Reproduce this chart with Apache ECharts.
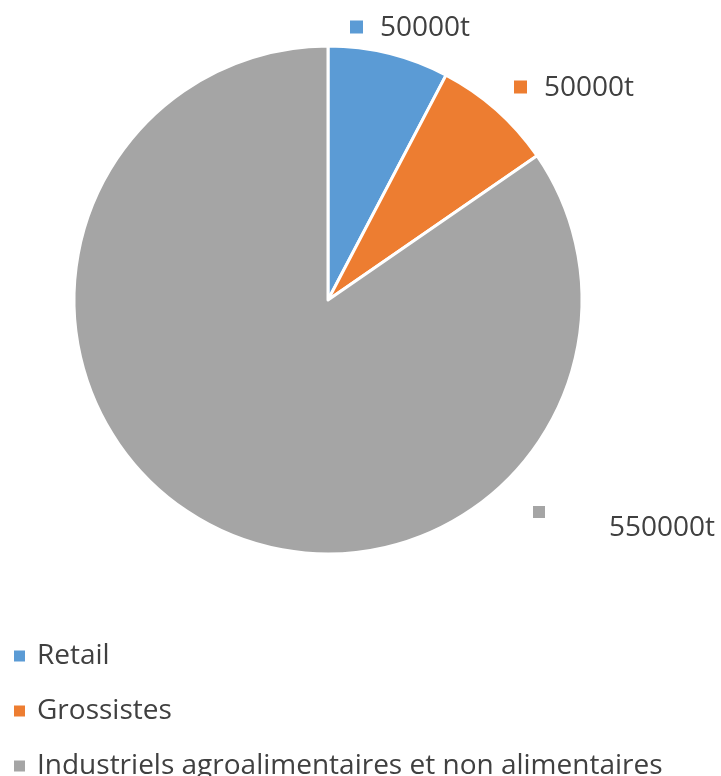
<!DOCTYPE html>
<html><head><meta charset="utf-8">
<script src="https://cdn.jsdelivr.net/npm/echarts@6/dist/echarts.min.js"></script>
<style>html,body{margin:0;padding:0;background:#fff}#c{width:721px;height:776px}</style>
</head><body><div id="c"></div>
<script>
const categories = ['Retail', 'Grossistes', 'Industriels agroalimentaires et non alimentaires'];
const values = [50000, 50000, 550000];
const labelTexts = ['50000t', '50000t', '550000t'];
const colors = ['#5B9BD5', '#ED7D31', '#A5A5A5'];
const FONT = '"Open Sans", "Noto Sans", sans-serif';

const chart = echarts.init(document.getElementById('c'));
const labelPos = [
  {x: 350, y: 27},
  {x: 514, y: 87},
  {x: 533, y: 524}
];
chart.setOption({
  animation: false,
  color: colors,
  legend: {
    orient: 'vertical', left: 12, top: 641, height: 140, padding: 0,
    icon: 'rect', itemWidth: 13, itemHeight: 13, itemGap: 25,
    textStyle: {fontFamily: FONT, fontSize: 28, color: '#404040', lineHeight: 30, padding: [0,0,0,6]},
    data: categories
  },
  series: [{
    type: 'pie',
    center: [328, 300], radius: 254,
    startAngle: 90, clockwise: true,
    itemStyle: {borderColor: '#fff', borderWidth: 3},
    labelLine: {show: false},
    label: {
      show: true, position: 'outside', overflow: 'none', alignTo: 'none',
      formatter: p => p.dataIndex === 2 ? '{m' + p.dataIndex + '|}{sp|}{t|' + labelTexts[p.dataIndex] + '}' : '{m' + p.dataIndex + '|}{g|}{t|' + labelTexts[p.dataIndex] + '}',
      rich: {
        m0: {width: 13, height: 13, backgroundColor: colors[0]},
        m1: {width: 13, height: 13, backgroundColor: colors[1]},
        m2: {width: 12, height: 12, backgroundColor: colors[2], verticalAlign: 'top', lineHeight: 36},
        g: {width: 17},
        sp: {width: 64},
        t: {fontFamily: FONT, fontSize: 28, color: '#404040', lineHeight: 30, verticalAlign: 'bottom'}
      }
    },
    labelLayout: p => ({x: labelPos[p.dataIndex].x, y: labelPos[p.dataIndex].y, align: 'left', verticalAlign: 'middle'}),
    emphasis: {disabled: true},
    data: categories.map((c, i) => ({name: c, value: values[i]}))
  }]
});
</script></body></html>
